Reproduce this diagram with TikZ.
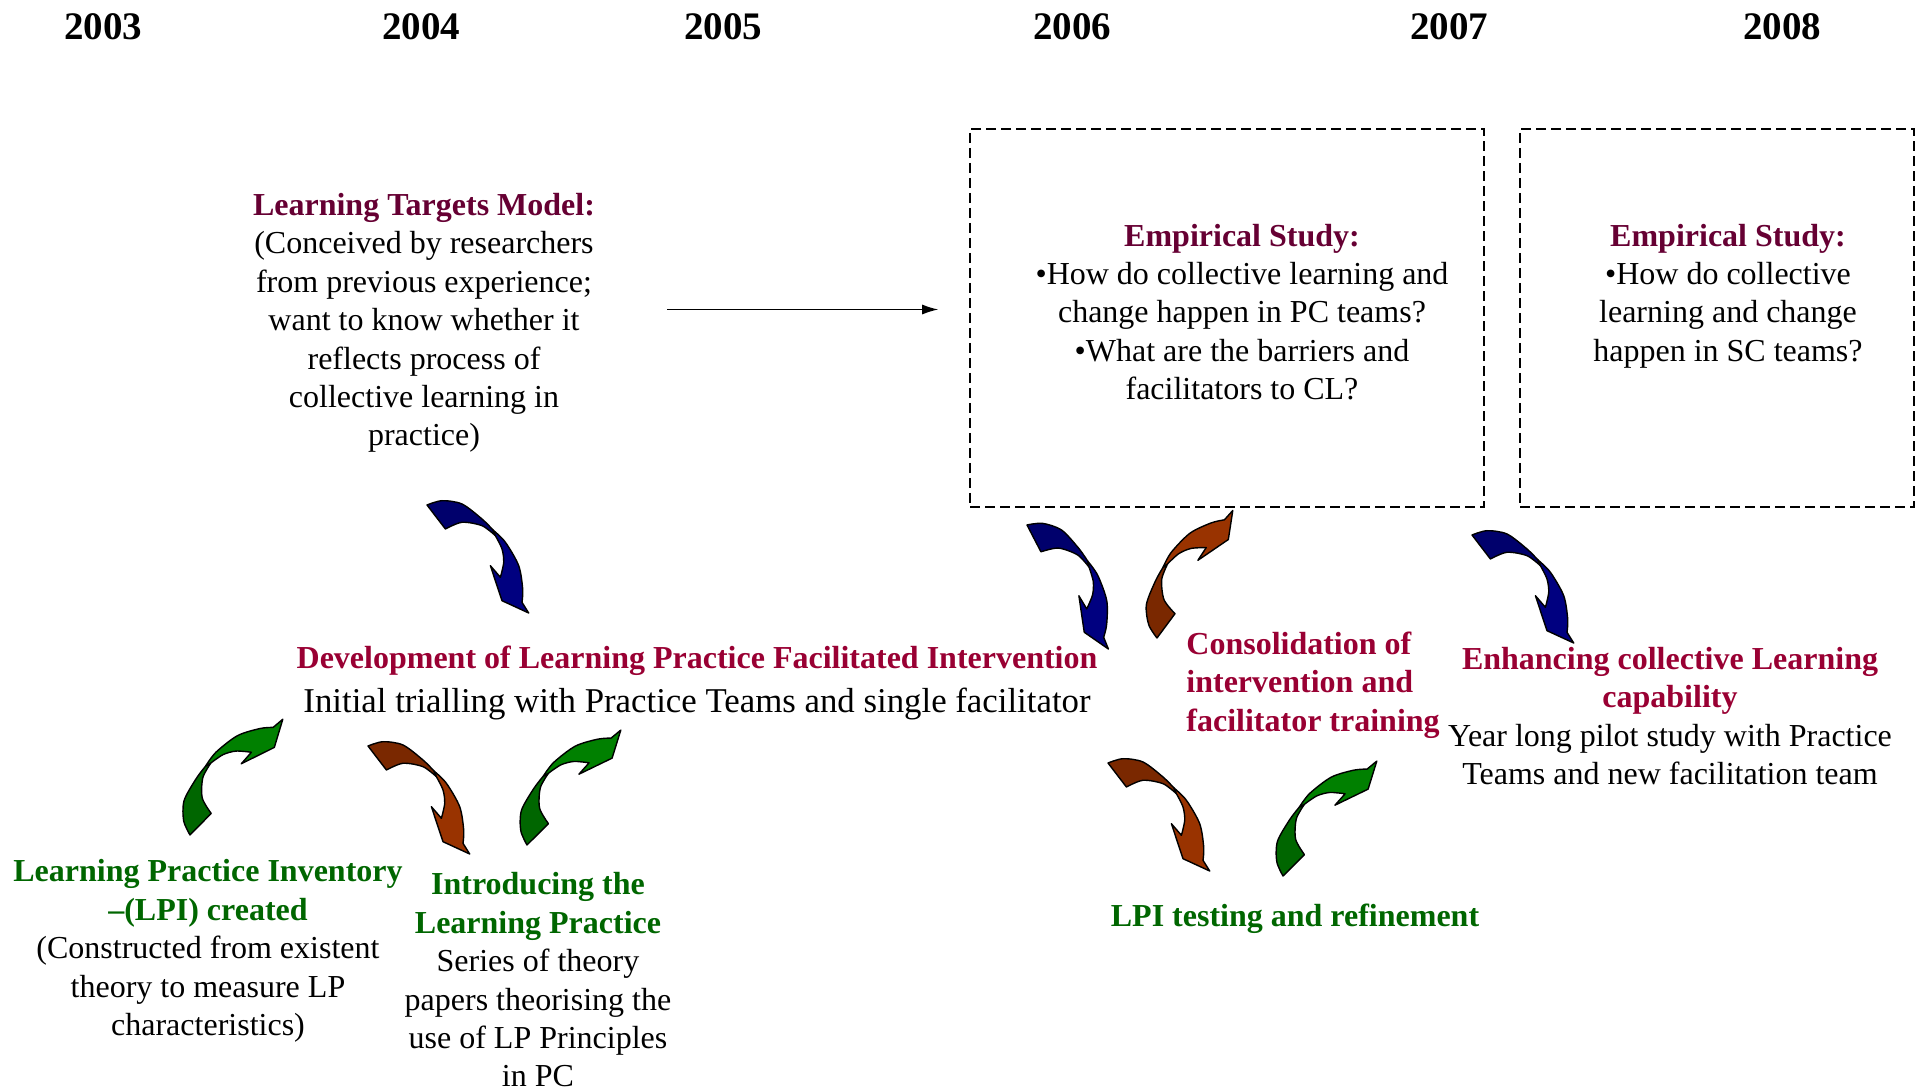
\documentclass[tikz,border=0pt]{standalone}
\usepackage{fontspec}
\setmainfont{Liberation Serif}
\usetikzlibrary{arrows.meta, positioning}

\definecolor{modelred}{HTML}{660033}
\definecolor{stagered}{HTML}{990033}
\definecolor{lpigreen}{HTML}{006600}
\definecolor{navyhead}{HTML}{000080}
\definecolor{navytail}{HTML}{00006C}
\definecolor{rusthead}{HTML}{993300}
\definecolor{rusttail}{HTML}{7A2800}
\definecolor{leafhead}{HTML}{008000}
\definecolor{leaftail}{HTML}{006600}

\begin{document}
\begin{tikzpicture}[x=0.5pt, y=-0.5pt,
        year/.style={font=\fontsize{19.5}{24}\selectfont\bfseries, inner sep=0},
        note/.style={align=center, font=\fontsize{16}{19.2}\selectfont, inner sep=0},
        study/.style={rectangle, draw=black, dash pattern=on 5pt off 2.5pt, line width=0.8pt, minimum height=189pt, inner sep=0},
        flow/.style={-{Latex[length=8pt,width=5pt]}, line width=0.6pt},
        pics/turnarrow/.style 2 args={code={
            % tail half
            \filldraw[fill=#1, line width=0.7pt, line join=round]
                plot[smooth] coordinates {(0,0) (15,-4.3) (35,-1) (55,14) (66,25)} -- (68.4,30.7)
                -- plot[smooth] coordinates {(68.4,30.7) (55,20.7) (35,17.3) (18.4,24)} -- cycle;
            % head half
            \filldraw[fill=#2, line width=0.7pt, line join=round]
                plot[smooth] coordinates {(66,25) (78.4,37.3) (91.7,60.7) (95.7,84) (95,97.3)}
                -- (101.7,108) -- (75,95.7) -- (63.4,60.7)
                -- plot[smooth] coordinates {(73.4,72.3) (76.7,57.3) (75,44) (68.4,30.7)} -- cycle;
        }}
    ]
    \useasboundingbox (0,0) rectangle (1918,1090);

    % Years
    \foreach \yr/\xpos in {2003/103, 2004/421, 2005/723, 2006/1072, 2007/1449, 2008/1782}
        \node[year] (y\yr) at (\xpos,27) {\yr};

    % Model and studies
    \node[note] (ltm) at (424,323) {\textcolor{modelred}{\textbf{Learning Targets Model:}}\\(Conceived by researchers\\from previous experience;\\want to know whether it\\reflects process of\\collective learning in\\practice)};
    \node[study, minimum width=257pt] (study1) at (1227,318) {};
    \node[study, minimum width=197pt] (study2) at (1717,318) {};
    \node[note] (q1) at (1242,312) {\textcolor{modelred}{\textbf{Empirical Study:}}\\•How do collective learning and\\change happen in PC teams?\\•What are the barriers and\\facilitators to CL?};
    \node[note] (q2) at (1728,296) {\textcolor{modelred}{\textbf{Empirical Study:}}\\•How do collective\\learning and change\\happen in SC teams?};

    \draw[flow] ([xshift=36pt,yshift=6.75pt]ltm.east) -- ([xshift=-15.5pt,yshift=4.25pt]study1.west);

    % Intervention stages
    \node[note] (dev) at (697,683) {\textcolor{stagered}{\textbf{Development of Learning Practice Facilitated Intervention}}\\[2.5pt]{\fontsize{17.4}{20}\selectfont Initial trialling with Practice Teams and single facilitator}};
    \node[note, align=left, anchor=west] (consol) at (1186,685) {\textcolor{stagered}{\textbf{Consolidation of}}\\\textcolor{stagered}{\textbf{intervention and}}\\\textcolor{stagered}{\textbf{facilitator training}}};
    \node[note] (enh) at (1670,716) {\textcolor{stagered}{\textbf{Enhancing collective Learning}}\\\textcolor{stagered}{\textbf{capability}}\\Year long pilot study with Practice\\Teams and new facilitation team};

    % Inventory and theory
    \node[note] (lpi) at (208,951) {\textcolor{lpigreen}{\textbf{Learning Practice Inventory}}\\\textcolor{lpigreen}{\textbf{–(LPI) created}}\\(Constructed from existent\\theory to measure LP\\characteristics)};
    \node[note] (intro) at (538,980) {\textcolor{lpigreen}{\textbf{Introducing the}}\\\textcolor{lpigreen}{\textbf{Learning Practice}}\\Series of theory\\papers theorising the\\use of LP Principles\\in PC};
    \node[note] (lpitest) at (1295,919) {\textcolor{lpigreen}{\textbf{LPI testing and refinement}}};

    % Curved arrows
    \pic at (427,505) {turnarrow={navytail}{navyhead}};
    \pic[rotate=-10] at (1027,525) {turnarrow={navytail}{navyhead}};
    \pic at (1472,535) {turnarrow={navytail}{navyhead}};
    \pic[rotate=106] at (1157,638) {turnarrow={rusttail}{rusthead}};
    \pic at (368,746) {turnarrow={rusttail}{rusthead}};
    \pic at (1108,763) {turnarrow={rusttail}{rusthead}};
    \pic[rotate=98] at (190,835) {turnarrow={leaftail}{leafhead}};
    \pic[rotate=97.5] at (527,845) {turnarrow={leaftail}{leafhead}};
    \pic[rotate=97.5] at (1283,876) {turnarrow={leaftail}{leafhead}};
\end{tikzpicture}
\end{document}
